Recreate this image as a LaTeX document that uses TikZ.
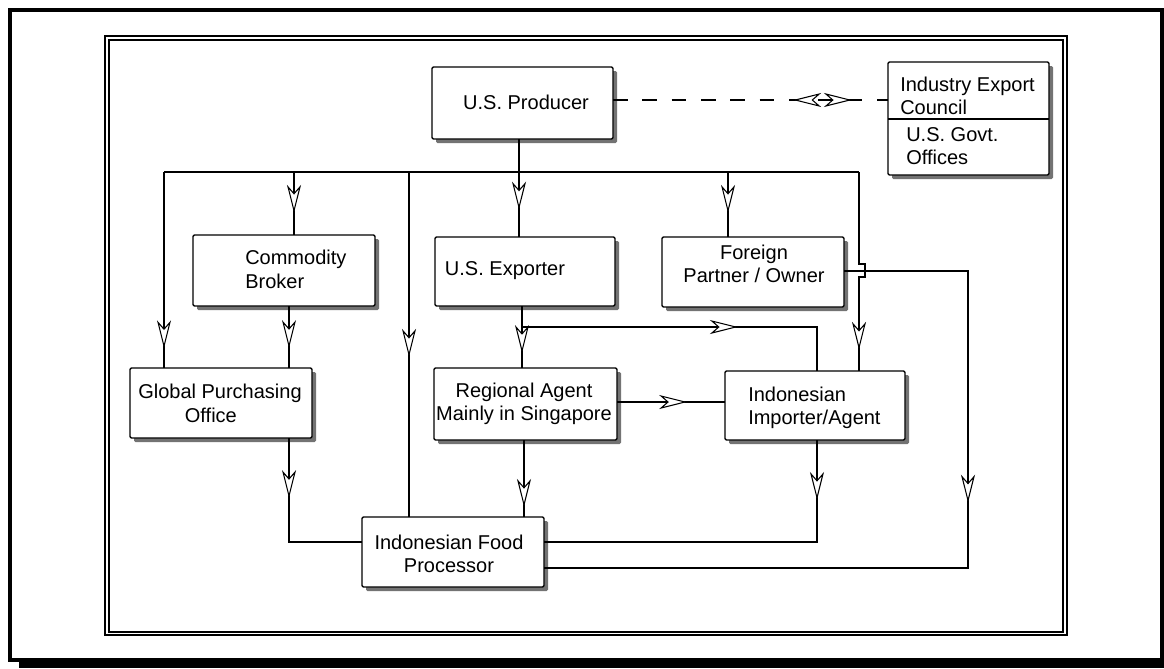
\documentclass[tikz,border=0pt]{standalone}
\usepackage{fontspec}
\setmainfont{Liberation Sans}
\usetikzlibrary{arrows.meta,decorations.markings,shadows}
\begin{document}
\begin{tikzpicture}[x=0.75pt,y=-0.75pt,
  openhead/.tip={Stealth[open,fill=white,length=21pt,width=10.5pt,inset=6pt,line width=0.8pt]},
  midarr/.style={postaction={decorate,decoration={markings,mark=at position #1 with {\arrow{openhead}}}}},
  box/.style={draw,line width=1.1pt,fill=white,rounded corners=1pt,inner sep=0pt,outer sep=0pt,
    drop shadow={shadow xshift=3pt,shadow yshift=-3pt,opacity=1,fill=black!55}},
  txt/.style={inner sep=0pt,font=\fontsize{15}{17.5}\selectfont},
  conn/.style={line width=1.1pt},
]
\useasboundingbox (0,0) rectangle (1164,668);
\fill[white] (0,0) rectangle (1164,668);
% frames
\fill[black] (19,660) rectangle (1164,668);
\draw[line width=3pt] (9.5,10) rectangle (1162,660);
\draw[line width=1.5pt] (105,36) rectangle (1066.5,635);
\draw[line width=1.5pt] (109,40) rectangle (1063,632);

% boxes
\node[box,minimum width=135.75pt,minimum height=54pt] (prod) at (522.5,103) {};
\node[box,minimum width=120.75pt,minimum height=84.75pt] (iec) at (968.5,118.5) {};
\node[box,minimum width=136.5pt,minimum height=53.25pt] (cb) at (284,270.5) {};
\node[box,minimum width=136.5pt,minimum height=52.5pt] (gpo) at (221,403) {};
\node[box,minimum width=135pt,minimum height=51.75pt] (exp) at (525,271.5) {};
\node[box,minimum width=136.5pt,minimum height=52.5pt] (fpart) at (753,272) {};
\node[box,minimum width=137.25pt,minimum height=54pt] (ra) at (525.5,404) {};
\node[box,minimum width=135pt,minimum height=51.75pt] (imp) at (815,405.5) {};
\node[box,minimum width=136.5pt,minimum height=52.5pt] (fproc) at (453,552) {};

% divider in the council box
\coordinate (divy) at (0,119);
\draw[line width=1.1pt] (iec.west |- divy) -- (iec.east |- divy);

% texts
\node[txt] (prodt) at (526,102) {U.S. Producer};
\node[txt,anchor=west,align=left] (iect) at (900,96) {Industry Export\\Council};
\node[txt,anchor=west,align=left] (govt) at (906,146) {U.S. Govt.\\Offices};
\node[txt,anchor=west,align=left] (cbt) at (245,269.5) {Commodity\\Broker};
\node[txt,anchor=west,align=left] (gpot) at (138,403.5) {Global Purchasing\\\hspace*{35pt}Office};
\node[txt] (expt) at (505,271) {U.S. Exporter};
\node[txt,align=center] (fpartt) at (754,264) {Foreign\\Partner / Owner};
\node[txt,align=center] (rat) at (524,404) {Regional Agent\\Mainly in Singapore};
\node[txt,anchor=west,align=left] (impt) at (748,408) {Indonesian\\Importer/Agent};
\node[txt,align=center] (fproct) at (449,554) {Indonesian Food\\Processor};

% coordinates
\coordinate (busL) at (164,172);
\coordinate (busR) at (859,172);
\coordinate (jp) at (519,172);
\coordinate (jcb) at (294,172);
\coordinate (jfp) at (409,172);
\coordinate (jfo) at (728,172);
\coordinate (hop) at (859,264);
\coordinate (cbx) at (289,0);
\coordinate (gfy) at (0,542);
\coordinate (ex) at (522,327);
\coordinate (ix) at (817,0);
\coordinate (ry) at (0,402);
\coordinate (rx) at (524,0);
\coordinate (fy) at (0,271);
\coordinate (fx) at (968,0);
\coordinate (fy2) at (0,568);
\coordinate (dy) at (0,100);

% connectors
\draw[conn] (busL) -- (busR);
\draw[conn] (prod.south -| jp) -- (jp);
\draw[conn,midarr=0.58] (jp) -- (jp |- exp.north);
\draw[conn,midarr=0.9] (busL) -- (busL |- gpo.north);
\draw[conn,midarr=0.65] (jcb) -- (jcb |- cb.north);
\draw[conn,midarr=0.536] (jfp) -- (jfp |- fproc.north);
\draw[conn,midarr=0.63] (jfo) -- (jfo |- fpart.north);
\draw[conn,midarr=0.9] (busR) -- (hop) -- ++(6,0) -- ++(0,13) -- ++(-6,0) -- (busR |- imp.north);
\draw[conn,midarr=0.68] (cb.south -| cbx) -- (gpo.north -| cbx);
\draw[conn,midarr=0.34] (gpo.south -| cbx) |- (fproc.west |- gfy);
\draw[conn,midarr=0.76] (exp.south -| ex) -- (ra.north -| ex);
\draw[conn,midarr=0.637] (ex) -| (imp.north -| ix);
\draw[conn,midarr=0.65] (ra.east |- ry) -- (imp.west |- ry);
\draw[conn,midarr=0.87] (ra.south -| rx) -- (fproc.north -| rx);
\draw[conn,midarr=0.16] (imp.south -| ix) |- (fproc.east |- gfy);
\draw[conn,midarr=0.421] (fpart.east |- fy) -| (fx |- fy2) -- (fproc.east |- fy2);
\draw[conn,dash pattern=on 11pt off 11pt,
  postaction={decorate,decoration={markings,
    mark=at position 0.655 with {\arrowreversed{openhead}},
    mark=at position 0.869 with {\arrow{openhead}}}}]
  (prod.east |- dy) -- (iec.west |- dy);
\end{tikzpicture}
\end{document}
